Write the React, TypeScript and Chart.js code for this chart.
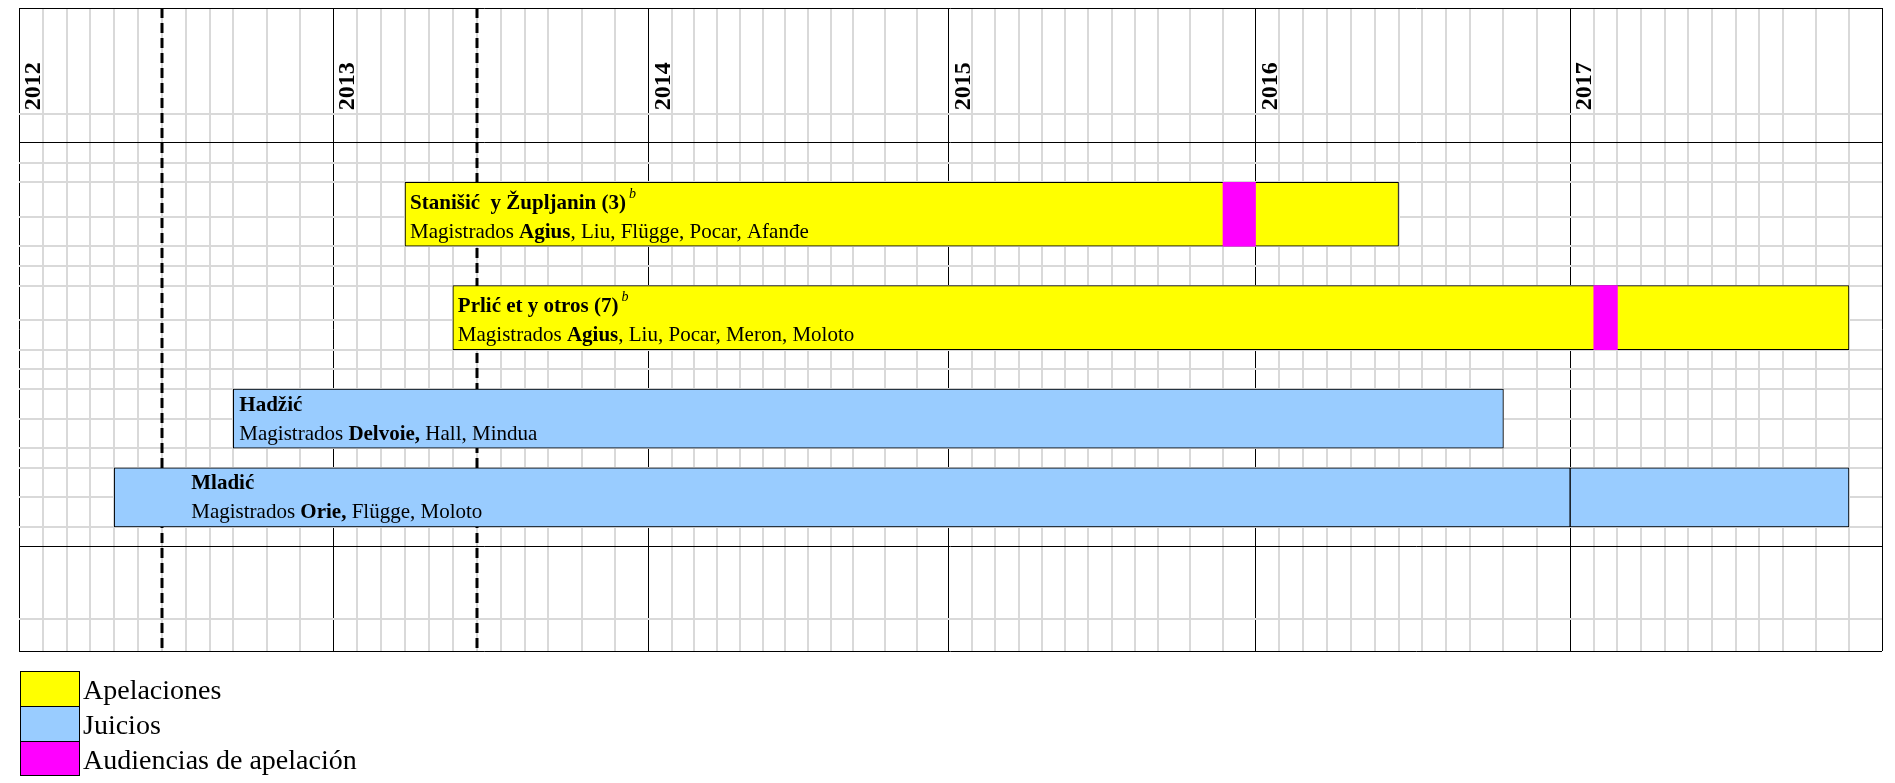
import React, { useEffect, useRef } from 'react';
import { Chart, registerables, LinearScale } from 'chart.js';

Chart.register(...registerables);

// ---------------- data ----------------
const years = ['2012', '2013', '2014', '2015', '2016', '2017'];
const axisStart = '2012-01';
const axisEnd = '2018-01';
const milestoneMonths = ['2012-07', '2013-07'];

const seriesNames = ['Apelaciones', 'Juicios', 'Audiencias de apelación'];

const caseTitles = ['Stanišić  y Župljanin (3)', 'Prlić et y otros (7)', 'Hadžić', 'Mladić'];
const caseNotes = ['b', 'b', '', ''];
const caseKinds = ['Apelaciones', 'Apelaciones', 'Juicios', 'Juicios'];
const caseStarts = ['2013-04', '2013-06', '2012-10', '2012-05'];
const caseEnds = ['2016-07', '2017-12', '2016-11', '2017-12'];
const caseBreaks = ['', '', '', '2017-01'];
const hearingStarts = ['2015-12', '2017-02', '', ''];
const hearingEnds = ['2016-01', '2017-03', '', ''];
const judgesLead = ['Agius', 'Agius', 'Delvoie,', 'Orie,'];
const judgesRest = [', Liu, Flügge, Pocar, Afanđe', ', Liu, Pocar, Meron, Moloto', ' Hall, Mindua', ' Flügge, Moloto'];

// ---------------- layout / style ----------------
const ROW_UNITS = [5.4, 1.45, 1, 1, 1.75, 1.5, 1, 1, 1.75, 1.5, 1, 1, 1.5, 1.5, 1, 1.5, 1.5, 1, 3.7, 1.6];
const BLACK_ROWLINES = [0, 2, 18, 20];
const CASE_ROW = [4, 8, 12, 15];
const LABEL_INSET = [5, 5, 6, 77];
const MONTH_WEIGHT = [1, 1, 1, 1, 1, 1, 1, 1, 1, 1.4, 1.4, 1.4];
const YEAR_WEIGHT = [1.012, 1.016, 0.966, 0.987, 1.013, 1.004];
const SERIES_COLORS = ['#FFFF00', '#99CCFF', '#FF00FF'];
const GRID_GRAY = '#d9d9d9';
const SERIF = "'Liberation Serif', 'Times New Roman', serif";

const BOUNDS: number[] = ROW_UNITS.reduce((acc: number[], h) => { acc.push(acc[acc.length - 1] + h); return acc; }, [0]);
const TOTAL_UNITS = BOUNDS[BOUNDS.length - 1];

const mi = (s: string) => {
  const [y, m] = s.split('-').map(Number);
  return (y - 2012) * 12 + (m - 1);
};

const colWeight = (m: number) => {
  const mm = ((m % 12) + 12) % 12;
  const yy = Math.min(YEAR_WEIGHT.length - 1, Math.max(0, Math.floor(m / 12)));
  return MONTH_WEIGHT[mm] * YEAR_WEIGHT[yy];
};

// Month scale: table columns of unequal width (Oct–Dec wider), as in the original
class MonthScale extends LinearScale {
  static id = 'monthGrid';
  cum(v: number) {
    const w = Math.floor(v);
    let acc = 0;
    for (let m = 0; m < w; m++) acc += colWeight(m);
    return acc + (v - w) * colWeight(w);
  }
  getPixelForValue(value: any) {
    if (value === null || value === undefined || isNaN(value)) return NaN;
    const a = this.cum(this.min);
    const b = this.cum(this.max);
    return this.getPixelForDecimal((this.cum(value) - a) / (b - a));
  }
  getValueForPixel(pixel: number) {
    const a = this.cum(this.min);
    const b = this.cum(this.max);
    const target = a + this.getDecimalForPixel(pixel) * (b - a);
    let acc = 0;
    let m = 0;
    while (m < 2000 && acc + colWeight(m) < target) { acc += colWeight(m); m++; }
    return m + (target - acc) / colWeight(m);
  }
}
Chart.register(MonthScale as any);

const rowCenter = (i: number) => (BOUNDS[CASE_ROW[i]] + BOUNDS[CASE_ROW[i] + 2]) / 2;
const rowSpan = (i: number) => BOUNDS[CASE_ROW[i] + 2] - BOUNDS[CASE_ROW[i]];

function buildDatasets() {
  const appeals: any[] = [];
  const trials: any[] = [];
  const hearings: any[] = [];
  let appealSpan = 3;
  let trialSpan = 3;
  caseTitles.forEach((_, i) => {
    const y = rowCenter(i);
    const s = mi(caseStarts[i]);
    const e = mi(caseEnds[i]);
    const target = caseKinds[i] === 'Apelaciones' ? appeals : trials;
    if (caseKinds[i] === 'Apelaciones') appealSpan = rowSpan(i); else trialSpan = rowSpan(i);
    if (caseBreaks[i]) {
      const b = mi(caseBreaks[i]);
      target.push({ x: [s, b], y });
      target.push({ x: [b, e], y });
    } else {
      target.push({ x: [s, e], y });
    }
    if (hearingStarts[i]) hearings.push({ x: [mi(hearingStarts[i]), mi(hearingEnds[i])], y });
  });
  const thickness = (span: number) => (c: any) => {
    const ys = c.chart.scales.y;
    const v = ys ? Math.abs(ys.getPixelForValue(span) - ys.getPixelForValue(0)) : NaN;
    return isFinite(v) && v > 0 ? v : 60;
  };
  return [
    { label: seriesNames[0], data: appeals, backgroundColor: SERIES_COLORS[0], borderColor: '#000', borderWidth: 1, borderSkipped: false, barThickness: thickness(appealSpan), order: 2 },
    { label: seriesNames[1], data: trials, backgroundColor: SERIES_COLORS[1], borderColor: '#000', borderWidth: 1, borderSkipped: false, barThickness: thickness(trialSpan), order: 2 },
    { label: seriesNames[2], data: hearings, backgroundColor: SERIES_COLORS[2], borderWidth: 0, borderSkipped: false, barThickness: thickness(appealSpan), order: 0 },
  ];
}

const milestonePlugin = {
  id: 'milestones',
  beforeDatasetsDraw(chart: any) {
    const { ctx, chartArea, scales } = chart;
    ctx.save();
    ctx.strokeStyle = '#000';
    ctx.lineWidth = 3;
    ctx.setLineDash([10, 5]);
    milestoneMonths.forEach((m) => {
      const px = Math.round(scales.x.getPixelForValue(mi(m)));
      ctx.beginPath();
      ctx.moveTo(px, chartArea.top);
      ctx.lineTo(px, chartArea.bottom);
      ctx.stroke();
    });
    ctx.restore();
  },
};

const textPlugin = {
  id: 'caseText',
  afterDatasetsDraw(chart: any) {
    const { ctx, scales } = chart;
    const x = scales.x;
    const y = scales.y;
    ctx.save();
    ctx.fillStyle = '#000';
    // year labels in the header
    const headerY = y.getPixelForValue(BOUNDS[1]) - 4;
    years.forEach((yr) => {
      const px = x.getPixelForValue(mi(yr + '-01'));
      ctx.save();
      ctx.translate(px + 21, headerY);
      ctx.rotate(-Math.PI / 2);
      ctx.font = `bold 24px ${SERIF}`;
      ctx.textBaseline = 'alphabetic';
      ctx.textAlign = 'left';
      ctx.fillText(yr, 0, 0);
      ctx.restore();
    });
    // bar labels
    ctx.textBaseline = 'middle';
    ctx.textAlign = 'left';
    caseTitles.forEach((title, i) => {
      const left = x.getPixelForValue(mi(caseStarts[i])) + LABEL_INSET[i];
      const bottom = y.getPixelForValue(BOUNDS[CASE_ROW[i] + 2]);
      const y2 = bottom - 14;
      const y1 = y2 - 29;
      ctx.font = `bold 21px ${SERIF}`;
      ctx.fillText(title, left, y1);
      const tEnd = left + ctx.measureText(title).width;
      if (caseNotes[i]) {
        ctx.font = `italic 14px ${SERIF}`;
        ctx.fillText(caseNotes[i], tEnd + 3, y1 - 9);
      }
      let cx = left;
      const runs: [string, string][] = [
        ['Magistrados ', `21px ${SERIF}`],
        [judgesLead[i], `bold 21px ${SERIF}`],
        [judgesRest[i], `21px ${SERIF}`],
      ];
      runs.forEach(([t, f]) => {
        ctx.font = f;
        ctx.fillText(t, cx, y2);
        cx += ctx.measureText(t).width;
      });
    });
    ctx.restore();
  },
};

export default function App() {
  const ref = useRef<HTMLCanvasElement>(null);
  useEffect(() => {
    if (!ref.current) return;
    const chart = new Chart(ref.current, {
      type: 'bar',
      data: { datasets: buildDatasets() as any },
      options: {
        indexAxis: 'y',
        responsive: false,
        animation: false,
        events: [],
        devicePixelRatio: 1,
        layout: { padding: { left: 19, top: 8, right: 13, bottom: 132 } },
        datasets: { bar: { grouped: false } } as any,
        plugins: { legend: { display: false }, tooltip: { enabled: false } },
        scales: {
          x: {
            type: 'monthGrid' as any,
            min: mi(axisStart),
            max: mi(axisEnd),
            offset: false,
            position: 'bottom',
            ticks: { display: false },
            border: { display: false },
            grid: {
              offset: false,
              drawTicks: false,
              color: (c: any) => (c.tick && c.tick.value % 12 === 0 ? '#000' : GRID_GRAY),
              lineWidth: (c: any) => (c.tick && c.tick.value % 12 === 0 ? 1 : 2),
            },
            afterBuildTicks: (s: any) => {
              const ticks = [];
              for (let v = mi(axisStart); v <= mi(axisEnd); v++) ticks.push({ value: v });
              s.ticks = ticks;
            },
          } as any,
          y: {
            type: 'linear',
            reverse: true,
            min: 0,
            max: TOTAL_UNITS,
            offset: false,
            grace: 0,
            ticks: { display: false },
            border: { display: false },
            grid: {
              offset: false,
              drawTicks: false,
              color: (c: any) => (BLACK_ROWLINES.includes(c.index) ? '#000' : GRID_GRAY),
              lineWidth: (c: any) => (BLACK_ROWLINES.includes(c.index) ? 1 : 2),
            },
            afterBuildTicks: (s: any) => {
              s.ticks = BOUNDS.map((v) => ({ value: v }));
            },
          } as any,
        },
      },
      plugins: [milestonePlugin, textPlugin],
    });
    chart.update();
    return () => chart.destroy();
  }, []);

  return (
    <div style={{ position: 'fixed', left: 0, top: 0, width: 1895, height: 783, overflow: 'hidden', background: '#fff' }}>
      <canvas ref={ref} width={1895} height={783} style={{ position: 'absolute', left: 0, top: 0, display: 'block' }} />
      <div style={{ position: 'absolute', left: 20, top: 671 }}>
        {seriesNames.map((n, i) => (
          <div key={n} style={{ display: 'flex', alignItems: 'flex-start', height: 35 }}>
            <div style={{ width: 60, height: i < 2 ? 36 : 35, boxSizing: 'border-box', border: '1.5px solid #000', background: SERIES_COLORS[i] }} />
            <span style={{ marginLeft: 3, fontFamily: SERIF, fontSize: 28, lineHeight: '35px', paddingTop: 1, color: '#000', whiteSpace: 'nowrap' }}>{n}</span>
          </div>
        ))}
      </div>
    </div>
  );
}
